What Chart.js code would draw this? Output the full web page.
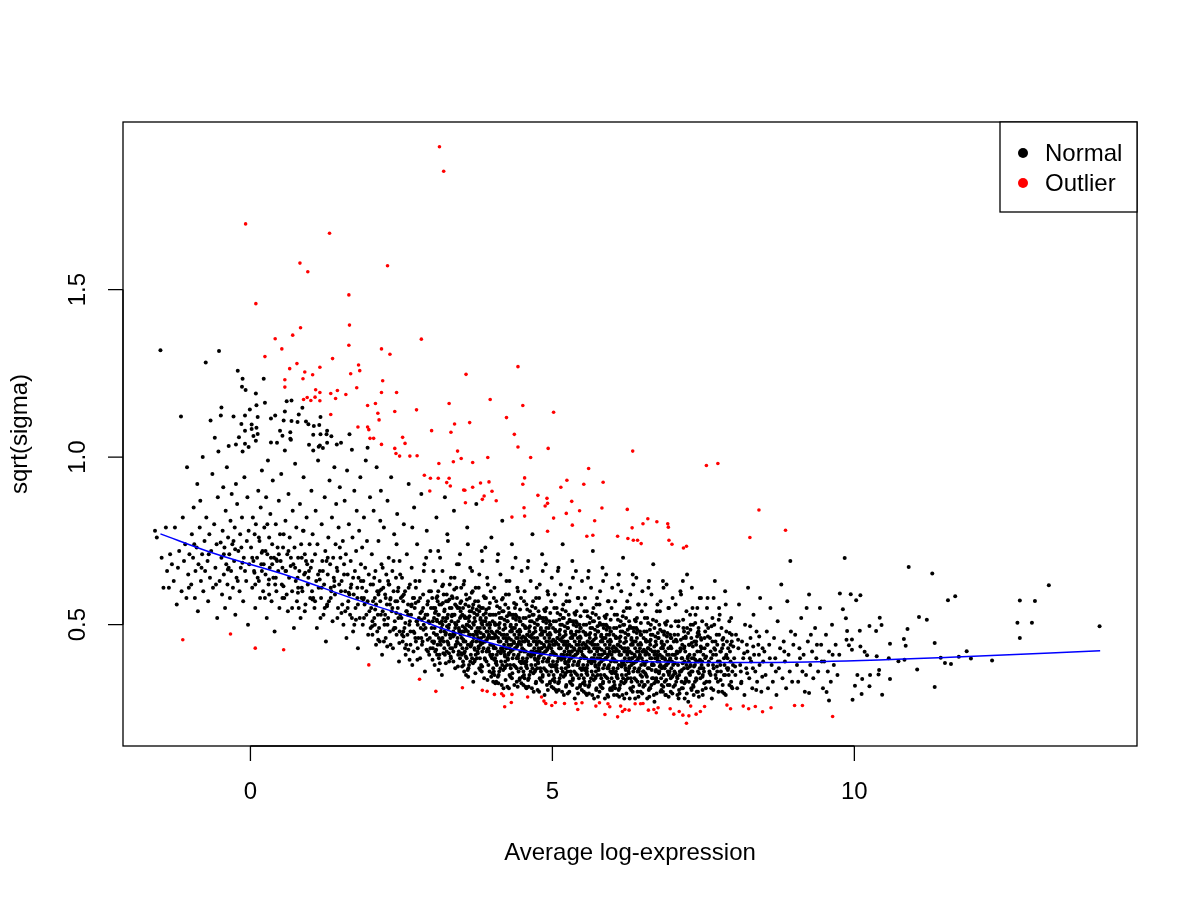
<!DOCTYPE html>
<html lang="en">
<head>
    <meta charset="UTF-8">
    <title>sqrt(sigma) vs Average log-expression</title>
    <style>
        html, body {
            margin: 0;
            padding: 0;
            background: #fff;
        }
        #wrap {
            width: 1200px;
            height: 900px;
        }
    </style>
    <script src="https://cdn.jsdelivr.net/npm/chart.js"></script>
</head>
<body>
    <div id="wrap"><canvas id="sigmaChart" width="1200" height="900"></canvas></div>

    <script>
// axis ticks (R style: axis line spans first..last tick)
const xTicks = [0, 5, 10];
const yTicks = [0.5, 1.0, 1.5];
const yTickLabels = ['0.5', '1.0', '1.5'];

// lowess-like trend (blue line)
const trendX = [-1.49, -0.61, 0.66, 1.76, 2.86, 3.15, 3.70, 4.25, 4.80, 5.35, 5.91, 6.46, 7.01, 7.56, 8.11, 9.22, 11.59, 14.07];
const trendY = [0.771, 0.713, 0.644, 0.574, 0.510, 0.490, 0.460, 0.432, 0.413, 0.401, 0.394, 0.390, 0.388, 0.387, 0.387, 0.389, 0.403, 0.422];

// outlier genes (red)
const outlierPoints = [
    [3.13,1.926],[3.20,1.853],[-0.08,1.696],[1.31,1.668],[0.82,1.579],[0.95,1.553],[2.27,1.571],[0.09,1.458],
    [1.63,1.484],[1.64,1.394],[0.83,1.386],[0.70,1.364],[0.41,1.353],[1.63,1.334],[2.83,1.352],[0.52,1.323],
    [2.17,1.323],[2.31,1.307],[0.24,1.300],[1.36,1.294],[0.77,1.279],[1.79,1.275],[0.65,1.264],[1.15,1.268],
    [0.90,1.254],[1.81,1.258],[1.66,1.249],[1.03,1.246],[0.57,1.231],[0.87,1.234],[2.19,1.228],[0.57,1.209],
    [1.76,1.207],[1.08,1.201],[1.15,1.193],[1.44,1.199],[1.33,1.190],[1.58,1.187],[2.17,1.193],[2.42,1.193],
    [0.94,1.178],[1.07,1.179],[0.88,1.172],[1.00,1.169],[1.15,1.168],[1.41,1.175],[2.07,1.160],[1.94,1.154],
    [3.29,1.160],[1.33,1.127],[2.75,1.141],[2.11,1.131],[2.39,1.136],[2.13,1.111],[3.38,1.099],[1.78,1.090],
    [1.94,1.090],[1.96,1.082],[3.00,1.079],[3.32,1.074],[1.98,1.056],[2.04,1.056],[2.52,1.059],[2.56,1.041],
    [2.17,1.038],[2.39,1.026],[3.43,1.018],[2.41,1.011],[2.47,1.003],[2.64,1.003],[2.76,1.004],[3.12,0.981],
    [3.36,0.986],[3.49,0.996],[2.88,0.946],[2.98,0.937],[3.11,0.937],[3.29,0.937],[3.25,0.924],[3.31,0.914],
    [3.53,0.902],[2.97,0.899],
    [-1.12,0.455],[-0.33,0.472],[0.08,0.430],[0.55,0.425],[1.96,0.380],[2.80,0.337],[3.07,0.301],[3.51,0.312],
    [4.43,1.270],[3.57,1.247],[3.97,1.172],[4.51,1.154],[5.02,1.134],[4.24,1.118],[3.63,1.103],[4.37,1.068],
    [4.43,1.030],[4.93,1.026],[6.33,1.018],
    [3.68,0.984],[3.93,0.999],[4.64,0.999],[5.60,0.966],[7.55,0.975],[7.74,0.981],[3.81,0.923],[3.95,0.926],
    [3.55,0.901],[3.68,0.910],[4.00,0.898],[4.54,0.938],[5.24,0.931],[5.52,0.919],[5.84,0.925],[5.14,0.910],
    [4.51,0.919],[3.87,0.884],[3.84,0.874],[4.07,0.870],[3.56,0.864],[4.76,0.886],[4.91,0.877],[4.92,0.862],
    [4.88,0.854],[4.53,0.849],[5.32,0.868],[5.45,0.840],[5.82,0.848],[5.23,0.832],[6.24,0.844],[8.42,0.842],
    [4.33,0.821],[4.54,0.824],[5.02,0.818],[5.70,0.810],[5.33,0.797],[6.58,0.816],[6.50,0.801],[6.73,0.807],
    [6.91,0.801],[6.92,0.791],[6.32,0.789],[8.86,0.782],[4.92,0.779],[5.57,0.764],[5.67,0.767],[6.08,0.764],
    [6.25,0.757],[6.34,0.752],[6.41,0.752],[6.47,0.742],[6.93,0.752],[6.98,0.740],[8.27,0.760],[7.22,0.734],
    [7.17,0.729],
    [3.84,0.304],[3.92,0.301],[4.16,0.294],[4.19,0.288],[4.33,0.292],[4.32,0.268],[4.21,0.255],[4.04,0.292],
    [4.59,0.284],[4.82,0.284],[4.86,0.272],[4.89,0.265],[4.99,0.259],[5.05,0.268],[5.20,0.265],[5.39,0.265],
    [5.42,0.247],[5.49,0.267],[5.72,0.257],[5.78,0.267],[5.87,0.232],[5.92,0.264],[5.95,0.255],[6.08,0.225],
    [6.13,0.257],[6.16,0.241],[6.20,0.247],[6.27,0.245],[6.37,0.264],[6.46,0.264],[6.50,0.265],[6.59,0.245],
    [6.68,0.247],[6.72,0.237],[6.75,0.252],[6.95,0.249],[7.01,0.233],[7.10,0.241],[7.16,0.230],[7.26,0.228],
    [7.22,0.206],[7.29,0.257],[7.38,0.233],[7.45,0.241],[7.52,0.256],[7.89,0.260],[7.95,0.249],[8.16,0.257],
    [8.25,0.249],[8.36,0.256],[8.48,0.240],[8.62,0.252],[9.01,0.259],[9.14,0.259],[9.64,0.226]
];

// normal genes (black)
const normalPoints = [
    // upper-left scatter
    [-1.49,1.319],[-0.52,1.317],[-0.74,1.282],[-1.15,1.121],[-0.21,1.258],[-0.13,1.234],[0.22,1.234],[-0.14,1.210],
    [-0.08,1.200],[0.09,1.190],[-0.48,1.148],[-0.01,1.142],[0.10,1.155],[0.24,1.162],[0.60,1.167],[0.68,1.169],
    [0.86,1.147],[-0.49,1.124],[-0.28,1.121],[-0.09,1.124],[0.12,1.120],[-0.66,1.109],[-0.15,1.099],[0.02,1.097],
    [0.34,1.115],[0.41,1.124],[0.57,1.136],[0.80,1.127],[1.16,1.120],[0.55,1.109],[0.68,1.108],[0.78,1.105],
    [0.92,1.106],[0.96,1.098],[1.14,1.096],[1.05,1.093],[0.10,1.088],[-0.09,1.079],[0.02,1.084],[0.49,1.079],
    [0.66,1.074],[1.27,1.079],[-0.59,1.058],[-0.19,1.059],[0.05,1.063],[0.12,1.069],[0.53,1.064],[0.66,1.055],
    [1.04,1.067],[1.16,1.068],[1.26,1.068],[1.64,1.068],[1.34,1.062],[-0.36,1.033],[-0.24,1.038],[-0.09,1.040],
    [-0.03,1.030],[0.09,1.049],[0.34,1.044],[0.44,1.043],[0.67,1.052],[0.97,1.037],[1.15,1.035],[1.27,1.043],
    [1.43,1.038],[1.50,1.043],[1.68,1.022],[1.94,1.028],[0.57,1.020],[1.04,1.020],[1.13,1.031],[1.20,1.027],
    [-0.53,1.017],[-0.13,1.017],
    // x -1.6 .. -1.0
    [-1.58,0.78],[-1.55,0.76],[-1.47,0.70],[-1.44,0.61],[-1.40,0.79],[-1.38,0.66],[-1.35,0.61],[-1.33,0.71],
    [-1.30,0.68],[-1.27,0.63],[-1.25,0.79],[-1.22,0.56],[-1.20,0.67],[-1.18,0.72],[-1.14,0.60],[-1.12,0.82],
    [-1.10,0.69],[-1.08,0.74],[-1.06,0.58],[-1.05,0.97],[-1.03,0.65],[-1.02,0.61],[-1.01,0.71],
    // x -1.0 .. -0.5
    [-0.98,0.62],[-0.97,0.77],[-0.95,0.70],[-0.94,0.85],[-0.92,0.58],[-0.91,0.66],[-0.89,0.73],[-0.88,0.92],
    [-0.87,0.54],[-0.86,0.68],[-0.84,0.79],[-0.83,0.87],[-0.82,0.63],[-0.80,0.71],[-0.79,1.00],[-0.78,0.60],
    [-0.76,0.75],[-0.75,0.66],[-0.73,0.82],[-0.71,0.69],[-0.70,0.57],[-0.68,0.77],[-0.67,0.64],[-0.65,0.72],
    [-0.63,0.95],[-0.62,0.61],[-0.60,0.80],[-0.58,0.67],[-0.56,0.74],[-0.55,0.52],[-0.54,0.88],[-0.51,0.63],
    [-0.93,0.74],[-0.81,0.67],[-0.69,0.71],[-0.57,0.62],
    // x -0.5 .. 0
    [-0.48,0.70],[-0.47,0.59],[-0.46,0.78],[-0.45,0.91],[-0.44,0.65],[-0.43,0.73],[-0.42,0.55],[-0.41,0.84],
    [-0.40,0.68],[-0.39,0.97],[-0.38,0.62],[-0.37,0.76],[-0.35,0.71],[-0.34,0.58],[-0.33,0.81],[-0.32,0.66],
    [-0.31,0.89],[-0.30,0.74],[-0.29,0.61],[-0.27,0.69],[-0.26,0.79],[-0.25,0.53],[-0.23,0.64],[-0.22,0.86],
    [-0.20,0.72],[-0.18,0.60],[-0.17,0.77],[-0.16,0.67],[-0.12,0.57],[-0.11,0.70],[-0.10,0.94],[-0.07,0.63],
    [-0.06,0.75],[-0.05,0.88],[-0.04,0.50],[-0.02,0.68],[-0.44,0.71],[-0.36,0.67],[-0.28,0.75],[-0.21,0.63],
    [-0.15,0.73],[-0.09,0.66],[-0.03,0.78],[-0.14,0.82],[-0.24,0.92],
    // x 0 .. 0.5
    [0.01,0.73],[0.03,0.61],[0.04,0.82],[0.06,0.66],[0.07,0.77],[0.08,0.55],[0.11,0.70],[0.13,0.90],
    [0.14,0.63],[0.15,0.75],[0.16,0.58],[0.17,0.85],[0.18,0.68],[0.19,0.96],[0.20,0.72],[0.21,0.60],
    [0.23,0.79],[0.25,0.65],[0.26,0.88],[0.27,0.52],[0.28,0.71],[0.29,0.99],[0.30,0.62],[0.31,0.76],
    [0.32,0.67],[0.33,0.83],[0.35,0.57],[0.36,0.74],[0.37,0.93],[0.38,0.64],[0.39,0.70],[0.40,0.48],
    [0.42,0.80],[0.43,0.60],[0.45,0.73],[0.46,0.66],[0.47,0.87],[0.48,0.55],[0.49,0.77],[0.05,0.69],
    [0.12,0.64],[0.22,0.68],[0.34,0.70],[0.41,0.62],[0.44,0.69],[0.09,0.80],[0.24,0.58],
    // x 0.5 .. 1.0
    [0.50,0.69],[0.51,0.95],[0.52,0.62],[0.54,0.73],[0.56,0.58],[0.58,0.81],[0.59,0.66],[0.61,0.71],
    [0.62,0.54],[0.63,0.89],[0.64,0.64],[0.65,0.76],[0.69,0.60],[0.70,0.84],[0.71,0.68],[0.72,0.49],
    [0.73,0.73],[0.74,0.98],[0.75,0.63],[0.76,0.79],[0.77,0.57],[0.79,0.70],[0.81,0.66],[0.82,0.86],
    [0.83,0.52],[0.84,0.74],[0.85,0.61],[0.87,0.78],[0.88,0.94],[0.89,0.65],[0.90,0.71],[0.91,0.56],
    [0.93,0.82],[0.94,0.68],[0.95,0.62],[0.98,0.74],[0.99,0.58],[0.53,0.67],[0.60,0.59],[0.67,0.70],
    [0.78,0.64],[0.86,0.60],[0.92,0.69],[0.97,0.66],[0.55,0.77],[0.80,0.55],
    // x 1.0 .. 1.5
    [1.00,0.67],[1.01,0.90],[1.02,0.60],[1.03,0.77],[1.06,0.55],[1.07,0.71],[1.08,0.84],[1.09,0.63],
    [1.10,0.49],[1.11,0.74],[1.12,0.99],[1.15,0.66],[1.17,0.58],[1.18,0.80],[1.19,0.69],[1.21,0.53],
    [1.22,0.62],[1.23,0.88],[1.24,0.72],[1.25,0.45],[1.28,0.65],[1.29,0.76],[1.30,0.57],[1.31,0.93],
    [1.32,0.68],[1.33,0.61],[1.35,0.82],[1.36,0.51],[1.37,0.70],[1.38,0.64],[1.39,0.97],[1.40,0.59],
    [1.41,0.74],[1.42,0.86],[1.44,0.66],[1.45,0.55],[1.46,0.79],[1.47,0.62],[1.48,0.91],[1.49,0.70],
    [1.04,0.58],[1.13,0.61],[1.20,0.66],[1.27,0.56],[1.34,0.60],[1.43,0.67],[1.16,0.52],[1.26,0.69],
    // x 1.5 .. 2.0
    [1.51,0.63],[1.52,0.56],[1.53,0.75],[1.54,0.50],[1.55,0.68],[1.56,0.87],[1.57,0.60],[1.58,0.71],
    [1.59,0.46],[1.60,0.96],[1.61,0.65],[1.62,0.57],[1.63,0.80],[1.65,0.53],[1.66,0.69],[1.67,0.62],
    [1.69,0.76],[1.70,0.48],[1.71,0.59],[1.72,0.90],[1.73,0.66],[1.74,0.55],[1.75,0.72],[1.76,0.84],
    [1.77,0.61],[1.78,0.43],[1.79,0.64],[1.80,0.78],[1.81,0.52],[1.82,0.94],[1.83,0.68],[1.84,0.58],
    [1.85,0.73],[1.86,0.50],[1.87,0.63],[1.88,0.82],[1.89,0.56],[1.90,0.67],[1.91,0.99],[1.92,0.60],
    [1.93,0.75],[1.95,0.47],[1.96,0.65],[1.97,0.54],[1.98,0.88],[1.99,0.62],[1.57,0.54],[1.64,0.59],
    [1.70,0.64],[1.78,0.56],[1.85,0.61],[1.92,0.53],[1.68,0.52],[1.88,0.58],
    // x -0.5 .. 2, band near the trend
    [0.03,0.70],[0.08,0.62],[0.14,0.76],[0.19,0.66],[0.25,0.72],[0.31,0.59],[0.36,0.68],[0.42,0.64],
    [0.47,0.71],[0.53,0.58],[0.58,0.66],[0.63,0.72],[0.69,0.55],[0.74,0.67],[0.79,0.61],[0.85,0.70],
    [0.90,0.54],[0.96,0.64],[1.02,0.69],[1.07,0.57],[1.12,0.65],[1.18,0.61],[1.23,0.55],[1.28,0.70],
    [1.33,0.58],[1.39,0.63],[1.44,0.52],[1.50,0.60],[1.55,0.65],[1.61,0.55],[1.66,0.61],[1.72,0.50],
    [1.77,0.58],[1.83,0.63],[1.88,0.52],[1.94,0.57],[1.99,0.49],[0.28,0.80],[0.88,0.78],[1.48,0.73],
    [0.067,0.655],[0.187,0.715],[0.307,0.635],[0.427,0.695],[0.547,0.615],[0.667,0.675],[0.787,0.595],[0.907,0.655],
    [1.027,0.575],[1.147,0.635],[1.267,0.555],[1.387,0.615],[1.507,0.535],[1.627,0.595],[1.747,0.515],[1.867,0.575],
    [-0.133,0.685],[-0.253,0.725],[-0.373,0.665],[-0.493,0.745],
    // x 2.0 .. 2.5
    [2.00,0.55],[2.01,0.71],[2.02,0.47],[2.03,0.62],[2.04,0.84],[2.05,0.52],[2.06,0.58],[2.07,0.66],
    [2.08,0.44],[2.09,0.97],[2.10,0.60],[2.11,0.53],[2.12,0.75],[2.13,0.49],[2.14,0.63],[2.15,0.57],
    [2.16,0.90],[2.17,0.68],[2.18,0.41],[2.19,0.54],[2.20,0.61],[2.21,0.79],[2.22,0.50],[2.23,0.59],
    [2.24,0.46],[2.25,0.65],[2.26,0.56],[2.27,0.87],[2.28,0.52],[2.29,0.70],[2.30,0.62],[2.31,0.48],
    [2.32,0.58],[2.33,0.94],[2.34,0.54],[2.35,0.66],[2.36,0.43],[2.37,0.60],[2.38,0.77],[2.39,0.51],
    [2.40,0.57],[2.41,0.64],[2.42,0.47],[2.43,0.83],[2.44,0.55],[2.45,0.61],[2.46,0.39],[2.47,0.69],
    [2.48,0.53],[2.49,0.58],[2.06,0.50],[2.14,0.45],[2.23,0.53],[2.31,0.56],[2.38,0.49],[2.44,0.60],
    [2.12,0.59],[2.28,0.63],[2.47,0.48],[2.03,0.57],
    // x 2.5 .. 3.0
    [2.50,0.52],[2.51,0.64],[2.52,0.45],[2.53,0.57],[2.54,0.80],[2.55,0.49],[2.56,0.60],[2.57,0.41],
    [2.58,0.54],[2.59,0.71],[2.60,0.47],[2.61,0.56],[2.62,0.92],[2.63,0.50],[2.64,0.62],[2.65,0.44],
    [2.66,0.53],[2.67,0.67],[2.68,0.38],[2.69,0.58],[2.70,0.48],[2.71,0.85],[2.72,0.55],[2.73,0.46],
    [2.74,0.61],[2.75,0.51],[2.76,0.74],[2.77,0.43],[2.78,0.57],[2.79,0.52],[2.80,0.63],[2.81,0.40],
    [2.82,0.49],[2.83,0.89],[2.84,0.54],[2.85,0.45],[2.86,0.59],[2.87,0.50],[2.88,0.68],[2.89,0.36],
    [2.90,0.53],[2.91,0.47],[2.92,0.78],[2.93,0.56],[2.94,0.42],[2.95,0.51],[2.96,0.60],[2.97,0.46],
    [2.98,0.72],[2.99,0.55],[2.53,0.48],[2.58,0.44],[2.64,0.51],[2.71,0.58],[2.77,0.50],[2.83,0.46],
    [2.88,0.52],[2.94,0.57],[2.98,0.43],[2.61,0.53],[2.74,0.45],[2.86,0.55],
    // x 2.0 .. 3.0, second and third pass
    [2.02,0.51],[2.05,0.64],[2.08,0.56],[2.10,0.48],[2.13,0.60],[2.16,0.53],[2.19,0.67],[2.21,0.45],
    [2.24,0.58],[2.27,0.50],[2.29,0.62],[2.32,0.44],[2.35,0.55],[2.37,0.69],[2.40,0.49],[2.43,0.57],
    [2.45,0.52],[2.48,0.65],[2.51,0.47],[2.54,0.59],[2.56,0.43],[2.59,0.54],[2.62,0.61],[2.65,0.48],
    [2.67,0.56],[2.70,0.42],[2.73,0.63],[2.76,0.51],[2.78,0.46],[2.81,0.58],[2.84,0.44],[2.87,0.66],
    [2.90,0.49],[2.93,0.53],[2.96,0.41],[2.99,0.60],[2.15,0.81],[2.42,0.74],[2.68,0.79],[2.91,0.70],
    [2.015,0.495],[2.065,0.545],[2.115,0.455],[2.165,0.605],[2.215,0.515],[2.265,0.435],[2.315,0.575],[2.365,0.485],
    [2.415,0.535],[2.465,0.445],[2.515,0.585],[2.565,0.505],[2.615,0.425],[2.665,0.555],[2.715,0.475],[2.765,0.395],
    [2.815,0.535],[2.865,0.485],[2.915,0.425],[2.965,0.505],[2.535,0.465],[2.635,0.395],[2.735,0.565],[2.835,0.515],
    [2.935,0.455],
    // x 3.0 .. 3.5
    [3.00,0.49],[3.01,0.58],[3.02,0.43],[3.03,0.66],[3.04,0.52],[3.05,0.38],[3.06,0.55],[3.07,0.47],
    [3.08,0.82],[3.09,0.51],[3.10,0.44],[3.11,0.60],[3.12,0.53],[3.13,0.41],[3.14,0.70],[3.15,0.48],
    [3.16,0.56],[3.17,0.35],[3.18,0.50],[3.19,0.62],[3.20,0.45],[3.21,0.54],[3.22,0.88],[3.23,0.47],
    [3.24,0.57],[3.25,0.42],[3.26,0.52],[3.27,0.75],[3.28,0.49],[3.29,0.39],[3.30,0.55],[3.31,0.46],
    [3.32,0.64],[3.33,0.51],[3.34,0.43],[3.35,0.58],[3.36,0.48],[3.37,0.84],[3.38,0.53],[3.39,0.37],
    [3.40,0.50],[3.41,0.61],[3.42,0.45],[3.43,0.55],[3.44,0.41],[3.45,0.68],[3.46,0.48],[3.47,0.52],
    [3.48,0.44],[3.49,0.57],[3.02,0.51],[3.07,0.54],[3.12,0.46],[3.16,0.49],[3.21,0.43],[3.25,0.59],
    [3.30,0.47],[3.34,0.53],[3.39,0.56],[3.43,0.46],[3.47,0.40],[3.04,0.45],[3.10,0.57],[3.19,0.52],
    [3.28,0.44],[3.36,0.42],[3.41,0.50],[3.45,0.49],[3.14,0.45],[3.23,0.51],[3.32,0.40],[3.48,0.54],
    [3.09,0.41],[3.27,0.53],[3.38,0.47],
    [3.01,0.45],[3.03,0.55],[3.05,0.49],[3.06,0.42],[3.08,0.58],[3.09,0.47],[3.11,0.53],[3.12,0.40],
    [3.13,0.56],[3.15,0.44],[3.17,0.51],[3.18,0.46],[3.20,0.59],[3.21,0.48],[3.22,0.41],[3.24,0.52],
    [3.26,0.45],[3.27,0.57],[3.29,0.50],[3.31,0.43],[3.33,0.55],[3.35,0.47],[3.36,0.39],[3.37,0.53],
    [3.39,0.49],[3.40,0.44],[3.42,0.58],[3.44,0.51],[3.45,0.42],[3.46,0.55],[3.48,0.47],[3.49,0.61],
    [3.06,0.63],[3.18,0.66],[3.30,0.62],[3.42,0.68],[3.11,0.72],[3.26,0.77],[3.38,0.64],[3.47,0.71],
    [3.015,0.395],[3.035,0.475],[3.055,0.535],[3.075,0.425],[3.095,0.585],[3.115,0.365],[3.135,0.505],[3.155,0.455],
    [3.175,0.615],[3.195,0.415],[3.215,0.545],[3.235,0.385],[3.255,0.495],[3.275,0.445],[3.295,0.575],[3.315,0.405],
    [3.335,0.525],[3.355,0.465],[3.375,0.605],[3.395,0.435],[3.415,0.555],[3.435,0.375],[3.455,0.485],[3.475,0.565],
    [3.495,0.415],
    [3.037,0.445],[3.087,0.515],[3.137,0.385],[3.187,0.565],[3.237,0.475],[3.287,0.415],[3.337,0.585],[3.387,0.505],
    [3.437,0.445],[3.487,0.525],
    // x 3.5 .. 4.0
    [3.50,0.46],[3.51,0.53],[3.52,0.39],[3.53,0.62],[3.54,0.48],[3.55,0.42],[3.56,0.56],[3.57,0.35],
    [3.58,0.50],[3.59,0.79],[3.60,0.44],[3.61,0.52],[3.62,0.38],[3.63,0.58],[3.64,0.47],[3.65,0.41],
    [3.66,0.54],[3.67,0.66],[3.68,0.45],[3.69,0.33],[3.70,0.50],[3.71,0.43],[3.72,0.57],[3.73,0.48],
    [3.74,0.86],[3.75,0.40],[3.76,0.53],[3.77,0.46],[3.78,0.61],[3.79,0.37],[3.80,0.49],[3.81,0.44],
    [3.82,0.55],[3.83,0.72],[3.84,0.42],[3.85,0.51],[3.86,0.47],[3.87,0.34],[3.88,0.58],[3.89,0.45],
    [3.90,0.52],[3.91,0.39],[3.92,0.64],[3.93,0.48],[3.94,0.43],[3.95,0.55],[3.96,0.36],[3.97,0.50],
    [3.98,0.46],[3.99,0.76],[3.51,0.43],[3.55,0.49],[3.58,0.40],[3.62,0.51],[3.66,0.44],[3.69,0.47],
    [3.73,0.41],[3.76,0.49],[3.80,0.45],[3.84,0.50],[3.88,0.40],[3.91,0.48],[3.95,0.42],[3.98,0.53],
    [3.53,0.45],[3.60,0.48],[3.64,0.39],[3.71,0.52],[3.78,0.43],[3.82,0.38],[3.86,0.53],[3.93,0.46],
    [3.97,0.41],[3.57,0.52],[3.68,0.55],[3.75,0.47],[3.89,0.51],[3.54,0.36],[3.79,0.54],[3.96,0.49],
    [3.50,0.41],[3.51,0.48],[3.52,0.55],[3.53,0.38],[3.55,0.52],[3.56,0.45],[3.57,0.59],[3.58,0.43],
    [3.59,0.50],[3.61,0.37],[3.62,0.47],[3.63,0.54],[3.65,0.44],[3.66,0.49],[3.67,0.40],[3.69,0.56],
    [3.70,0.46],[3.71,0.39],[3.72,0.51],[3.74,0.45],[3.75,0.53],[3.76,0.42],[3.77,0.57],[3.78,0.48],
    [3.80,0.40],[3.81,0.52],[3.82,0.46],[3.83,0.36],[3.85,0.55],[3.86,0.43],[3.87,0.49],[3.88,0.45],
    [3.90,0.58],[3.91,0.42],[3.92,0.50],[3.94,0.38],[3.95,0.47],[3.96,0.53],[3.97,0.44],[3.99,0.48],
    [3.54,0.63],[3.64,0.67],[3.73,0.61],[3.84,0.69],[3.93,0.62],[3.60,0.74],[3.79,0.65],[3.89,0.73],
    [3.98,0.60],[3.68,0.60],
    [3.505,0.375],[3.525,0.455],[3.545,0.525],[3.565,0.405],[3.585,0.575],[3.605,0.345],[3.625,0.495],[3.645,0.435],
    [3.665,0.595],[3.685,0.385],[3.705,0.535],[3.725,0.355],[3.745,0.475],[3.765,0.415],[3.785,0.555],[3.805,0.365],
    [3.825,0.505],[3.845,0.445],[3.865,0.585],[3.885,0.395],[3.905,0.545],[3.925,0.335],[3.945,0.465],[3.965,0.565],
    [3.985,0.405],[3.515,0.495],[3.615,0.555],[3.715,0.425],[3.815,0.475],[3.915,0.455],
    [3.537,0.415],[3.567,0.485],[3.597,0.365],[3.627,0.525],[3.657,0.445],[3.687,0.505],[3.717,0.395],[3.747,0.545],
    [3.777,0.435],[3.807,0.515],[3.837,0.375],[3.867,0.465],[3.897,0.535],[3.927,0.425],[3.957,0.505],[3.987,0.345],
    // x 4.0 .. 4.5
    [4.00,0.44],[4.01,0.51],[4.02,0.37],[4.03,0.58],[4.04,0.46],[4.05,0.40],[4.06,0.53],[4.07,0.33],
    [4.08,0.48],[4.09,0.69],[4.10,0.42],[4.11,0.50],[4.12,0.36],[4.13,0.55],[4.14,0.45],[4.15,0.39],
    [4.16,0.52],[4.17,0.81],[4.18,0.43],[4.19,0.31],[4.20,0.47],[4.21,0.41],[4.22,0.56],[4.23,0.46],
    [4.24,0.63],[4.25,0.38],[4.26,0.51],[4.27,0.44],[4.28,0.59],[4.29,0.35],[4.30,0.48],[4.31,0.42],
    [4.32,0.53],[4.33,0.74],[4.34,0.40],[4.35,0.49],[4.36,0.45],[4.37,0.32],[4.38,0.55],[4.39,0.43],
    [4.40,0.50],[4.41,0.37],[4.42,0.61],[4.43,0.46],[4.44,0.41],[4.45,0.52],[4.46,0.34],[4.47,0.48],
    [4.48,0.44],[4.49,0.66],[4.01,0.41],[4.05,0.47],[4.08,0.38],[4.12,0.49],[4.15,0.43],[4.19,0.46],
    [4.22,0.39],[4.25,0.47],[4.29,0.43],[4.33,0.48],[4.36,0.38],[4.40,0.46],[4.43,0.40],[4.47,0.51],
    [4.03,0.43],[4.10,0.46],[4.14,0.37],[4.21,0.50],[4.27,0.41],[4.31,0.37],[4.35,0.52],[4.42,0.44],
    [4.46,0.39],[4.06,0.50],[4.17,0.54],[4.24,0.45],[4.38,0.49],[4.04,0.35],[4.28,0.53],[4.45,0.47],
    [4.11,0.45],[4.32,0.44],[4.48,0.37],[4.20,0.42],[4.39,0.53],
    [4.00,0.40],[4.01,0.46],[4.02,0.53],[4.03,0.36],[4.05,0.50],[4.06,0.43],[4.07,0.57],[4.08,0.41],
    [4.09,0.48],[4.11,0.35],[4.12,0.45],[4.13,0.52],[4.15,0.42],[4.16,0.47],[4.17,0.38],[4.19,0.54],
    [4.20,0.44],[4.21,0.37],[4.22,0.49],[4.24,0.43],[4.25,0.51],[4.26,0.40],[4.27,0.55],[4.28,0.46],
    [4.30,0.38],[4.31,0.50],[4.32,0.44],[4.33,0.34],[4.35,0.53],[4.36,0.41],[4.37,0.47],[4.38,0.43],
    [4.40,0.56],[4.41,0.40],[4.42,0.48],[4.44,0.36],[4.45,0.45],[4.46,0.51],[4.47,0.42],[4.49,0.46],
    [4.04,0.61],[4.14,0.65],[4.23,0.59],[4.34,0.67],[4.43,0.60],[4.10,0.71],[4.29,0.63],[4.39,0.70],
    [4.48,0.58],[4.18,0.58],[4.02,0.33],[4.16,0.32],[4.28,0.31],[4.41,0.33],[4.07,0.39],
    [4.005,0.355],[4.025,0.435],[4.045,0.505],[4.065,0.385],[4.085,0.555],[4.105,0.325],[4.125,0.475],[4.145,0.415],
    [4.165,0.575],[4.185,0.365],[4.205,0.515],[4.225,0.335],[4.245,0.455],[4.265,0.395],[4.285,0.535],[4.305,0.345],
    [4.325,0.485],[4.345,0.425],[4.365,0.565],[4.385,0.375],[4.405,0.525],[4.425,0.315],[4.445,0.445],[4.465,0.545],
    [4.485,0.385],[4.015,0.475],[4.115,0.535],[4.215,0.405],[4.315,0.455],[4.415,0.435],[4.055,0.325],[4.255,0.315],
    [4.455,0.335],
    [4.037,0.395],[4.067,0.465],[4.097,0.345],[4.127,0.505],[4.157,0.425],[4.187,0.485],[4.217,0.375],[4.247,0.525],
    [4.277,0.415],[4.307,0.495],[4.337,0.355],[4.367,0.445],[4.397,0.515],[4.427,0.405],[4.457,0.485],[4.487,0.325],
    // x 4.5 .. 5.0
    [4.50,0.43],[4.51,0.50],[4.52,0.36],[4.53,0.57],[4.54,0.45],[4.55,0.39],[4.56,0.52],[4.57,0.31],
    [4.58,0.47],[4.59,0.67],[4.60,0.41],[4.61,0.49],[4.62,0.35],[4.63,0.54],[4.64,0.44],[4.65,0.38],
    [4.66,0.51],[4.67,0.77],[4.68,0.42],[4.69,0.30],[4.70,0.46],[4.71,0.40],[4.72,0.55],[4.73,0.45],
    [4.74,0.61],[4.75,0.37],[4.76,0.50],[4.77,0.43],[4.78,0.58],[4.79,0.34],[4.80,0.47],[4.81,0.41],
    [4.82,0.52],[4.83,0.71],[4.84,0.39],[4.85,0.48],[4.86,0.44],[4.87,0.29],[4.88,0.54],[4.89,0.42],
    [4.90,0.49],[4.91,0.36],[4.92,0.60],[4.93,0.45],[4.94,0.40],[4.95,0.51],[4.96,0.33],[4.97,0.47],
    [4.98,0.43],[4.99,0.64],[4.51,0.40],[4.55,0.46],[4.58,0.37],[4.62,0.48],[4.65,0.42],[4.69,0.45],
    [4.72,0.38],[4.75,0.46],[4.79,0.42],[4.83,0.47],[4.86,0.37],[4.90,0.45],[4.93,0.39],[4.97,0.50],
    [4.53,0.42],[4.60,0.45],[4.64,0.36],[4.71,0.49],[4.77,0.40],[4.81,0.36],[4.85,0.51],[4.92,0.43],
    [4.96,0.38],[4.56,0.49],[4.67,0.53],[4.74,0.44],[4.88,0.48],[4.54,0.34],[4.78,0.52],[4.95,0.46],
    [4.61,0.44],[4.82,0.43],[4.98,0.36],[4.70,0.41],[4.89,0.52],[4.57,0.39],[4.66,0.47],[4.84,0.35],
    [4.94,0.49],[4.73,0.33],
    [4.50,0.39],[4.51,0.45],[4.52,0.52],[4.53,0.35],[4.55,0.49],[4.56,0.42],[4.57,0.56],[4.58,0.40],
    [4.59,0.47],[4.61,0.34],[4.62,0.44],[4.63,0.51],[4.65,0.41],[4.66,0.46],[4.67,0.37],[4.69,0.53],
    [4.70,0.43],[4.71,0.36],[4.72,0.48],[4.74,0.42],[4.75,0.50],[4.76,0.39],[4.77,0.54],[4.78,0.45],
    [4.80,0.37],[4.81,0.49],[4.82,0.43],[4.83,0.33],[4.85,0.52],[4.86,0.40],[4.87,0.46],[4.88,0.42],
    [4.90,0.55],[4.91,0.39],[4.92,0.47],[4.94,0.35],[4.95,0.44],[4.96,0.50],[4.97,0.41],[4.99,0.45],
    [4.54,0.60],[4.64,0.63],[4.73,0.58],[4.84,0.66],[4.93,0.59],[4.60,0.69],[4.79,0.62],[4.89,0.68],
    [4.98,0.57],[4.68,0.57],[4.52,0.32],[4.66,0.31],[4.78,0.30],[4.91,0.32],[4.57,0.38],
    [4.505,0.345],[4.525,0.425],[4.545,0.495],[4.565,0.375],[4.585,0.545],[4.605,0.315],[4.625,0.465],[4.645,0.405],
    [4.665,0.555],[4.685,0.355],[4.705,0.505],[4.725,0.325],[4.745,0.445],[4.765,0.385],[4.785,0.525],[4.805,0.335],
    [4.825,0.475],[4.845,0.415],[4.865,0.545],[4.885,0.365],[4.905,0.515],[4.925,0.305],[4.945,0.435],[4.965,0.535],
    [4.985,0.375],[4.515,0.465],[4.615,0.525],[4.715,0.395],[4.815,0.445],[4.915,0.425],[4.555,0.315],[4.755,0.305],
    [4.955,0.325],
    [4.537,0.385],[4.567,0.455],[4.597,0.335],[4.627,0.495],[4.657,0.415],[4.687,0.475],[4.717,0.365],[4.747,0.515],
    [4.777,0.405],[4.807,0.485],[4.837,0.345],[4.867,0.435],[4.897,0.505],[4.927,0.395],[4.957,0.475],[4.987,0.315],
    // x 5.0 .. 5.5
    [5.00,0.42],[5.01,0.49],[5.02,0.35],[5.03,0.55],[5.04,0.44],[5.05,0.38],[5.06,0.51],[5.07,0.30],
    [5.08,0.46],[5.09,0.66],[5.10,0.40],[5.11,0.48],[5.12,0.34],[5.13,0.53],[5.14,0.43],[5.15,0.37],
    [5.16,0.50],[5.17,0.74],[5.18,0.41],[5.19,0.29],[5.20,0.45],[5.21,0.39],[5.22,0.54],[5.23,0.44],
    [5.24,0.59],[5.25,0.36],[5.26,0.49],[5.27,0.42],[5.28,0.57],[5.29,0.33],[5.30,0.46],[5.31,0.40],
    [5.32,0.51],[5.33,0.69],[5.34,0.38],[5.35,0.47],[5.36,0.43],[5.37,0.28],[5.38,0.53],[5.39,0.41],
    [5.40,0.48],[5.41,0.35],[5.42,0.58],[5.43,0.44],[5.44,0.39],[5.45,0.50],[5.46,0.32],[5.47,0.46],
    [5.48,0.42],[5.49,0.63],[5.01,0.39],[5.05,0.45],[5.08,0.36],[5.12,0.47],[5.15,0.41],[5.19,0.44],
    [5.22,0.37],[5.25,0.45],[5.29,0.41],[5.33,0.46],[5.36,0.36],[5.40,0.44],[5.43,0.38],[5.47,0.49],
    [5.03,0.41],[5.10,0.44],[5.14,0.35],[5.21,0.48],[5.27,0.39],[5.31,0.35],[5.35,0.50],[5.42,0.42],
    [5.46,0.37],[5.06,0.48],[5.17,0.52],[5.24,0.43],[5.38,0.47],[5.04,0.33],[5.28,0.51],[5.45,0.45],
    [5.11,0.43],[5.32,0.42],[5.48,0.35],[5.20,0.40],[5.39,0.51],[5.07,0.38],[5.16,0.46],[5.34,0.34],
    [5.44,0.48],[5.23,0.32],
    [5.00,0.38],[5.01,0.44],[5.02,0.51],[5.03,0.34],[5.05,0.48],[5.06,0.41],[5.07,0.55],[5.08,0.39],
    [5.09,0.46],[5.11,0.33],[5.12,0.43],[5.13,0.50],[5.15,0.40],[5.16,0.45],[5.17,0.36],[5.19,0.52],
    [5.20,0.42],[5.21,0.35],[5.22,0.47],[5.24,0.41],[5.25,0.49],[5.26,0.38],[5.27,0.53],[5.28,0.44],
    [5.30,0.36],[5.31,0.48],[5.32,0.42],[5.33,0.32],[5.35,0.51],[5.36,0.39],[5.37,0.45],[5.38,0.41],
    [5.40,0.54],[5.41,0.38],[5.42,0.46],[5.44,0.34],[5.45,0.43],[5.46,0.49],[5.47,0.40],[5.49,0.44],
    [5.04,0.59],[5.14,0.62],[5.23,0.57],[5.34,0.64],[5.43,0.58],[5.10,0.67],[5.29,0.61],[5.39,0.66],
    [5.48,0.56],[5.18,0.56],[5.02,0.31],[5.16,0.30],[5.28,0.30],[5.41,0.31],[5.07,0.37],
    [5.005,0.335],[5.025,0.415],[5.045,0.485],[5.065,0.365],[5.085,0.535],[5.105,0.305],[5.125,0.455],[5.145,0.395],
    [5.165,0.545],[5.185,0.345],[5.205,0.495],[5.225,0.315],[5.245,0.435],[5.265,0.375],[5.285,0.515],[5.305,0.325],
    [5.325,0.465],[5.345,0.405],[5.365,0.535],[5.385,0.355],[5.405,0.505],[5.425,0.295],[5.445,0.425],[5.465,0.525],
    [5.485,0.365],[5.015,0.455],[5.115,0.515],[5.215,0.385],[5.315,0.435],[5.415,0.415],[5.055,0.305],[5.255,0.295],
    [5.455,0.315],
    [5.037,0.375],[5.067,0.445],[5.097,0.325],[5.127,0.485],[5.157,0.405],[5.187,0.465],[5.217,0.355],[5.247,0.505],
    [5.277,0.395],[5.307,0.475],[5.337,0.335],[5.367,0.425],[5.397,0.495],[5.427,0.385],[5.457,0.465],[5.487,0.305],
    // x 5.5 .. 6.0
    [5.50,0.41],[5.51,0.48],[5.52,0.34],[5.53,0.54],[5.54,0.43],[5.55,0.37],[5.56,0.50],[5.57,0.29],
    [5.58,0.45],[5.59,0.64],[5.60,0.39],[5.61,0.47],[5.62,0.33],[5.63,0.52],[5.64,0.42],[5.65,0.36],
    [5.66,0.49],[5.67,0.72],[5.68,0.40],[5.69,0.28],[5.70,0.44],[5.71,0.38],[5.72,0.53],[5.73,0.43],
    [5.74,0.58],[5.75,0.35],[5.76,0.48],[5.77,0.41],[5.78,0.56],[5.79,0.32],[5.80,0.45],[5.81,0.39],
    [5.82,0.50],[5.83,0.67],[5.84,0.37],[5.85,0.46],[5.86,0.42],[5.87,0.28],[5.88,0.52],[5.89,0.40],
    [5.90,0.47],[5.91,0.34],[5.92,0.57],[5.93,0.43],[5.94,0.38],[5.95,0.49],[5.96,0.31],[5.97,0.45],
    [5.98,0.41],[5.99,0.61],[5.51,0.38],[5.55,0.44],[5.58,0.35],[5.62,0.46],[5.65,0.40],[5.69,0.43],
    [5.72,0.36],[5.75,0.44],[5.79,0.40],[5.83,0.45],[5.86,0.35],[5.90,0.43],[5.93,0.37],[5.97,0.48],
    [5.53,0.40],[5.60,0.43],[5.64,0.34],[5.71,0.47],[5.77,0.38],[5.81,0.34],[5.85,0.49],[5.92,0.41],
    [5.96,0.36],[5.56,0.47],[5.67,0.51],[5.74,0.42],[5.88,0.46],[5.54,0.32],[5.78,0.50],[5.95,0.44],
    [5.61,0.42],[5.82,0.41],[5.98,0.34],[5.70,0.39],[5.89,0.50],[5.57,0.37],[5.66,0.45],[5.84,0.33],
    [5.94,0.47],[5.73,0.31],
    [5.50,0.37],[5.51,0.43],[5.52,0.50],[5.53,0.33],[5.55,0.47],[5.56,0.40],[5.57,0.54],[5.58,0.38],
    [5.59,0.45],[5.61,0.32],[5.62,0.42],[5.63,0.49],[5.65,0.39],[5.66,0.44],[5.67,0.35],[5.69,0.51],
    [5.70,0.41],[5.71,0.34],[5.72,0.46],[5.74,0.40],[5.75,0.48],[5.76,0.37],[5.77,0.52],[5.78,0.43],
    [5.80,0.35],[5.81,0.47],[5.82,0.41],[5.83,0.31],[5.85,0.50],[5.86,0.38],[5.87,0.44],[5.88,0.40],
    [5.90,0.53],[5.91,0.37],[5.92,0.45],[5.94,0.33],[5.95,0.42],[5.96,0.48],[5.97,0.39],[5.99,0.43],
    [5.54,0.58],[5.64,0.61],[5.73,0.56],[5.84,0.63],[5.93,0.57],[5.60,0.66],[5.79,0.60],[5.89,0.65],
    [5.98,0.55],[5.68,0.55],[5.52,0.30],[5.66,0.29],[5.78,0.30],[5.91,0.29],[5.57,0.36],
    [5.505,0.325],[5.525,0.405],[5.545,0.475],[5.565,0.355],[5.585,0.525],[5.605,0.295],[5.625,0.445],[5.645,0.385],
    [5.665,0.535],[5.685,0.335],[5.705,0.485],[5.725,0.305],[5.745,0.425],[5.765,0.365],[5.785,0.505],[5.805,0.315],
    [5.825,0.455],[5.845,0.395],[5.865,0.525],[5.885,0.345],[5.905,0.495],[5.925,0.285],[5.945,0.415],[5.965,0.515],
    [5.985,0.355],[5.515,0.445],[5.615,0.505],[5.715,0.375],[5.815,0.425],[5.915,0.405],[5.555,0.295],[5.755,0.285],
    [5.955,0.305],
    [5.537,0.365],[5.567,0.435],[5.597,0.315],[5.627,0.475],[5.657,0.395],[5.687,0.455],[5.717,0.345],[5.747,0.495],
    [5.777,0.385],[5.807,0.465],[5.837,0.325],[5.867,0.415],[5.897,0.485],[5.927,0.375],[5.957,0.455],[5.987,0.305],
    // x 6.0 .. 6.5
    [6.00,0.40],[6.01,0.47],[6.02,0.33],[6.03,0.53],[6.04,0.42],[6.05,0.36],[6.06,0.49],[6.07,0.29],
    [6.08,0.44],[6.09,0.62],[6.10,0.38],[6.11,0.46],[6.12,0.32],[6.13,0.51],[6.14,0.41],[6.15,0.35],
    [6.16,0.48],[6.17,0.70],[6.18,0.39],[6.19,0.28],[6.20,0.43],[6.21,0.37],[6.22,0.52],[6.23,0.42],
    [6.24,0.57],[6.25,0.34],[6.26,0.47],[6.27,0.40],[6.28,0.55],[6.29,0.31],[6.30,0.44],[6.31,0.38],
    [6.32,0.49],[6.33,0.65],[6.34,0.36],[6.35,0.45],[6.36,0.41],[6.37,0.28],[6.38,0.51],[6.39,0.39],
    [6.40,0.46],[6.41,0.33],[6.42,0.56],[6.43,0.42],[6.44,0.37],[6.45,0.48],[6.46,0.30],[6.47,0.44],
    [6.48,0.40],[6.49,0.60],[6.01,0.37],[6.05,0.43],[6.08,0.34],[6.12,0.45],[6.15,0.39],[6.19,0.42],
    [6.22,0.35],[6.25,0.43],[6.29,0.39],[6.33,0.44],[6.36,0.34],[6.40,0.42],[6.43,0.36],[6.47,0.47],
    [6.03,0.39],[6.10,0.42],[6.14,0.33],[6.21,0.46],[6.27,0.37],[6.31,0.33],[6.35,0.48],[6.42,0.40],
    [6.46,0.35],[6.06,0.46],[6.17,0.50],[6.24,0.41],[6.38,0.45],[6.04,0.31],[6.28,0.49],[6.45,0.43],
    [6.11,0.41],[6.32,0.40],[6.48,0.33],[6.20,0.38],[6.39,0.49],
    [6.00,0.36],[6.01,0.42],[6.02,0.49],[6.03,0.32],[6.05,0.46],[6.06,0.39],[6.07,0.53],[6.08,0.37],
    [6.09,0.44],[6.11,0.31],[6.12,0.41],[6.13,0.48],[6.15,0.38],[6.16,0.43],[6.17,0.34],[6.19,0.50],
    [6.20,0.40],[6.21,0.33],[6.22,0.45],[6.24,0.39],[6.25,0.47],[6.26,0.36],[6.27,0.51],[6.28,0.42],
    [6.30,0.34],[6.31,0.46],[6.32,0.40],[6.33,0.30],[6.35,0.49],[6.36,0.37],[6.37,0.43],[6.38,0.39],
    [6.40,0.52],[6.41,0.36],[6.42,0.44],[6.44,0.32],[6.45,0.41],[6.46,0.47],[6.47,0.38],[6.49,0.42],
    [6.04,0.57],[6.14,0.60],[6.23,0.55],[6.34,0.62],[6.43,0.56],[6.10,0.65],[6.29,0.59],[6.39,0.64],
    [6.48,0.54],[6.18,0.54],[6.02,0.29],[6.16,0.29],[6.28,0.28],[6.41,0.30],[6.07,0.35],
    [6.005,0.315],[6.025,0.395],[6.045,0.465],[6.065,0.345],[6.085,0.515],[6.105,0.285],[6.125,0.435],[6.145,0.375],
    [6.165,0.525],[6.185,0.325],[6.205,0.475],[6.225,0.295],[6.245,0.415],[6.265,0.355],[6.285,0.495],[6.305,0.305],
    [6.325,0.445],[6.345,0.385],[6.365,0.515],[6.385,0.335],[6.405,0.485],[6.425,0.285],[6.445,0.405],[6.465,0.505],
    [6.485,0.345],[6.015,0.435],[6.115,0.495],[6.215,0.365],[6.315,0.415],[6.415,0.395],
    [6.037,0.355],[6.067,0.425],[6.097,0.305],[6.127,0.465],[6.157,0.385],[6.187,0.445],[6.217,0.335],[6.247,0.485],
    [6.277,0.375],[6.307,0.455],[6.337,0.315],[6.367,0.405],[6.397,0.475],[6.427,0.365],[6.457,0.445],[6.487,0.295],
    // x 6.5 .. 7.0
    [6.50,0.39],[6.51,0.46],[6.52,0.32],[6.53,0.52],[6.54,0.41],[6.55,0.35],[6.56,0.48],[6.57,0.28],
    [6.58,0.43],[6.59,0.61],[6.60,0.37],[6.61,0.45],[6.62,0.31],[6.63,0.50],[6.64,0.40],[6.65,0.34],
    [6.66,0.47],[6.67,0.68],[6.68,0.38],[6.69,0.27],[6.70,0.42],[6.71,0.36],[6.72,0.51],[6.73,0.41],
    [6.74,0.56],[6.75,0.33],[6.76,0.46],[6.77,0.39],[6.78,0.54],[6.79,0.30],[6.80,0.43],[6.81,0.37],
    [6.82,0.48],[6.83,0.63],[6.84,0.35],[6.85,0.44],[6.86,0.40],[6.87,0.29],[6.88,0.50],[6.89,0.38],
    [6.90,0.45],[6.91,0.32],[6.92,0.55],[6.93,0.41],[6.94,0.36],[6.95,0.47],[6.96,0.30],[6.97,0.43],
    [6.98,0.39],[6.99,0.58],[6.51,0.36],[6.55,0.42],[6.58,0.33],[6.62,0.44],[6.65,0.38],[6.69,0.41],
    [6.72,0.34],[6.75,0.42],[6.79,0.38],[6.83,0.43],[6.86,0.33],[6.90,0.41],[6.93,0.35],[6.97,0.46],
    [6.53,0.38],[6.60,0.41],[6.64,0.32],[6.71,0.45],[6.77,0.36],[6.81,0.32],[6.85,0.47],[6.92,0.39],
    [6.96,0.34],[6.56,0.45],[6.74,0.40],
    [6.50,0.36],[6.51,0.42],[6.52,0.48],[6.53,0.32],[6.55,0.45],[6.56,0.39],[6.57,0.52],[6.58,0.37],
    [6.59,0.43],[6.61,0.31],[6.62,0.40],[6.63,0.47],[6.65,0.38],[6.66,0.42],[6.67,0.34],[6.69,0.49],
    [6.70,0.40],[6.71,0.33],[6.72,0.44],[6.74,0.39],[6.75,0.46],[6.76,0.36],[6.77,0.50],[6.78,0.41],
    [6.80,0.34],[6.81,0.45],[6.82,0.40],[6.83,0.30],[6.85,0.48],[6.86,0.37],[6.87,0.42],[6.88,0.38],
    [6.90,0.51],[6.91,0.36],[6.92,0.43],[6.94,0.32],[6.95,0.40],[6.96,0.46],[6.97,0.37],[6.99,0.41],
    [6.54,0.56],[6.64,0.59],[6.73,0.54],[6.84,0.61],[6.93,0.55],[6.60,0.63],[6.79,0.57],[6.89,0.62],
    [6.68,0.29],[6.88,0.29],
    [6.505,0.315],[6.525,0.385],[6.545,0.455],[6.565,0.345],[6.585,0.505],[6.605,0.285],[6.625,0.425],[6.645,0.365],
    [6.665,0.515],[6.685,0.325],[6.705,0.465],[6.725,0.295],[6.745,0.405],[6.765,0.355],[6.785,0.485],[6.805,0.305],
    [6.825,0.435],[6.845,0.375],[6.865,0.505],[6.885,0.335],[6.905,0.475],[6.925,0.285],[6.945,0.395],[6.965,0.495],
    [6.985,0.345],[6.515,0.425],[6.615,0.485],[6.715,0.365],[6.815,0.405],[6.915,0.385],
    [6.537,0.355],[6.567,0.415],[6.597,0.305],[6.627,0.455],[6.657,0.385],[6.687,0.435],[6.717,0.335],[6.747,0.475],
    [6.777,0.375],[6.807,0.445],[6.837,0.315],[6.867,0.395],[6.897,0.465],[6.927,0.355],[6.957,0.435],[6.987,0.295],
    // x 7.0 .. 7.5
    [7.00,0.38],[7.01,0.45],[7.03,0.32],[7.04,0.51],[7.05,0.40],[7.07,0.34],[7.08,0.47],[7.09,0.28],
    [7.11,0.42],[7.12,0.60],[7.13,0.36],[7.15,0.44],[7.16,0.31],[7.17,0.49],[7.19,0.39],[7.20,0.33],
    [7.21,0.46],[7.23,0.65],[7.24,0.37],[7.25,0.27],[7.27,0.41],[7.28,0.35],[7.29,0.50],[7.31,0.40],
    [7.32,0.55],[7.33,0.32],[7.35,0.45],[7.36,0.38],[7.37,0.53],[7.39,0.30],[7.40,0.42],[7.41,0.36],
    [7.43,0.47],[7.44,0.58],[7.45,0.34],[7.47,0.43],[7.48,0.39],[7.49,0.29],[7.02,0.36],[7.06,0.42],
    [7.10,0.35],[7.14,0.40],[7.18,0.43],[7.22,0.38],[7.26,0.44],[7.30,0.36],[7.34,0.40],[7.38,0.34],
    [7.42,0.39],[7.46,0.46],[7.02,0.41],[7.14,0.33],[7.26,0.39],[7.38,0.44],[7.46,0.37],[7.18,0.48],
    [7.30,0.31],[7.42,0.49],
    [7.00,0.35],[7.02,0.47],[7.03,0.41],[7.05,0.33],[7.06,0.45],[7.08,0.38],[7.09,0.51],[7.11,0.36],
    [7.12,0.43],[7.14,0.31],[7.15,0.40],[7.17,0.46],[7.18,0.37],[7.20,0.42],[7.21,0.34],[7.23,0.49],
    [7.24,0.40],[7.26,0.33],[7.27,0.44],[7.29,0.38],[7.30,0.46],[7.32,0.36],[7.33,0.50],[7.35,0.41],
    [7.36,0.33],[7.38,0.45],[7.39,0.39],[7.41,0.30],[7.42,0.48],[7.44,0.37],[7.45,0.42],[7.47,0.38],
    [7.48,0.51],[7.49,0.35],[7.04,0.56],[7.13,0.59],[7.22,0.54],[7.31,0.61],[7.40,0.55],[7.46,0.58],
    [7.07,0.29],[7.19,0.28],[7.34,0.29],[7.16,0.63],[7.28,0.53],
    [7.005,0.315],[7.025,0.385],[7.045,0.455],[7.065,0.345],[7.085,0.495],[7.105,0.295],[7.125,0.425],[7.145,0.365],
    [7.165,0.515],[7.185,0.325],[7.205,0.465],[7.225,0.295],[7.245,0.405],[7.265,0.355],[7.285,0.485],[7.305,0.305],
    [7.325,0.435],[7.345,0.375],[7.365,0.505],[7.385,0.335],[7.405,0.475],[7.425,0.285],[7.445,0.395],[7.465,0.455],
    [7.485,0.345],
    [7.037,0.355],[7.067,0.415],[7.097,0.305],[7.127,0.455],[7.157,0.385],[7.187,0.435],[7.217,0.335],[7.247,0.475],
    [7.277,0.375],[7.307,0.445],[7.337,0.315],[7.367,0.395],[7.397,0.465],[7.427,0.355],[7.457,0.435],[7.487,0.305],
    // x 7.5 .. 8.0
    [7.50,0.41],[7.51,0.36],[7.53,0.48],[7.54,0.31],[7.56,0.44],[7.57,0.58],[7.58,0.38],[7.60,0.33],
    [7.61,0.46],[7.63,0.40],[7.64,0.28],[7.65,0.52],[7.67,0.37],[7.68,0.43],[7.69,0.63],[7.71,0.34],
    [7.72,0.47],[7.74,0.39],[7.75,0.30],[7.76,0.55],[7.78,0.42],[7.79,0.36],[7.80,0.49],[7.82,0.32],
    [7.83,0.44],[7.85,0.38],[7.86,0.60],[7.87,0.29],[7.89,0.45],[7.90,0.40],[7.92,0.35],[7.93,0.51],
    [7.94,0.42],[7.96,0.33],[7.97,0.47],[7.99,0.38],[7.52,0.43],[7.59,0.39],[7.62,0.35],[7.66,0.41],
    [7.70,0.45],[7.73,0.36],[7.77,0.39],[7.81,0.43],[7.84,0.35],[7.88,0.41],[7.91,0.37],[7.95,0.44],
    [7.98,0.31],[7.55,0.50],
    [7.50,0.37],[7.52,0.46],[7.53,0.40],[7.55,0.33],[7.57,0.44],[7.58,0.49],[7.60,0.36],[7.62,0.42],
    [7.63,0.31],[7.65,0.45],[7.66,0.38],[7.68,0.50],[7.70,0.35],[7.71,0.41],[7.73,0.44],[7.74,0.33],
    [7.76,0.47],[7.78,0.38],[7.79,0.42],[7.81,0.30],[7.83,0.46],[7.84,0.40],[7.86,0.35],[7.88,0.48],
    [7.89,0.37],[7.91,0.43],[7.93,0.32],[7.95,0.39],[7.97,0.45],[7.98,0.36],[7.56,0.55],[7.67,0.58],
    [7.77,0.53],[7.87,0.56],[7.96,0.52],
    [7.515,0.325],[7.545,0.405],[7.575,0.465],[7.605,0.355],[7.635,0.495],[7.665,0.305],[7.695,0.425],[7.725,0.375],
    [7.755,0.515],[7.785,0.335],[7.815,0.455],[7.845,0.295],[7.875,0.405],[7.905,0.365],[7.935,0.475],[7.965,0.315],
    [7.995,0.435],
    // x 8.0 .. 8.5
    [8.01,0.40],[8.03,0.35],[8.04,0.47],[8.06,0.31],[8.08,0.43],[8.09,0.56],[8.11,0.38],[8.13,0.33],
    [8.14,0.45],[8.16,0.40],[8.18,0.29],[8.19,0.50],[8.21,0.37],[8.23,0.42],[8.24,0.61],[8.26,0.34],
    [8.28,0.46],[8.29,0.39],[8.31,0.31],[8.33,0.53],[8.34,0.41],[8.36,0.36],[8.38,0.48],[8.39,0.33],
    [8.41,0.44],[8.43,0.38],[8.44,0.58],[8.46,0.30],[8.48,0.43],[8.49,0.39],[8.12,0.36],[8.22,0.44],
    [8.32,0.37],[8.42,0.41],[8.27,0.40],
    [8.025,0.375],[8.075,0.455],[8.125,0.325],[8.175,0.415],[8.225,0.355],[8.275,0.495],[8.325,0.435],[8.375,0.305],
    [8.425,0.465],[8.475,0.345],
    // x 8.5 .. 9.0
    [8.51,0.42],[8.53,0.35],[8.55,0.48],[8.57,0.31],[8.59,0.44],[8.61,0.55],[8.63,0.38],[8.65,0.33],
    [8.67,0.46],[8.69,0.40],[8.71,0.29],[8.73,0.51],[8.75,0.37],[8.77,0.43],[8.79,0.62],[8.81,0.34],
    [8.83,0.45],[8.85,0.39],[8.87,0.31],[8.89,0.57],[8.91,0.41],[8.93,0.36],[8.95,0.48],[8.97,0.33],
    [8.99,0.44],[8.60,0.40],[8.70,0.36],[8.84,0.42],[8.94,0.69],
    // x 9.0 .. 9.8
    [9.02,0.47],[9.05,0.38],[9.07,0.33],[9.09,0.43],[9.12,0.52],[9.14,0.36],[9.16,0.41],[9.18,0.30],
    [9.21,0.55],[9.23,0.45],[9.25,0.59],[9.27,0.38],[9.30,0.42],[9.32,0.34],[9.35,0.49],[9.37,0.40],
    [9.40,0.36],[9.43,0.55],[9.45,0.44],[9.48,0.31],[9.50,0.39],[9.53,0.47],[9.56,0.36],[9.58,0.42],
    [9.61,0.33],[9.63,0.50],[9.66,0.38],[9.69,0.44],[9.72,0.35],[9.75,0.41],[9.10,0.40],[9.28,0.47],
    [9.46,0.39],[9.64,0.41],[9.20,0.35],[9.38,0.44],[9.25,0.296],[9.54,0.299],[9.58,0.274],
    // x > 9.8 sparse tail
    [9.84,0.699],[10.90,0.672],[11.29,0.653],[13.22,0.618],[9.76,0.593],[9.94,0.591],[10.10,0.588],[10.03,0.573],
    [11.67,0.585],[11.55,0.573],[12.74,0.572],[12.99,0.571],[9.81,0.546],[10.42,0.521],[9.86,0.519],[11.07,0.523],
    [11.20,0.515],[12.70,0.506],[12.94,0.506],[14.06,0.495],[10.45,0.499],[10.25,0.496],[10.36,0.481],[10.09,0.482],
    [10.88,0.487],[12.74,0.460],[10.82,0.457],[10.59,0.443],[11.33,0.445],[10.85,0.437],[10.10,0.435],[9.96,0.425],
    [10.17,0.419],[10.21,0.409],[10.37,0.406],[11.86,0.421],[10.57,0.400],[10.73,0.391],[10.83,0.395],[11.43,0.401],
    [11.50,0.386],[11.60,0.383],[11.73,0.404],[11.93,0.399],[12.28,0.393],[11.04,0.366],[10.41,0.365],[10.26,0.350],
    [10.40,0.351],[10.59,0.338],[10.13,0.338],[10.05,0.350],[10.25,0.316],[10.12,0.293],[10.46,0.291],[11.33,0.314],
    [9.97,0.276],[10.01,0.318],[9.91,0.439],[9.96,0.456],[9.87,0.455],[9.88,0.481]
];

const xMin = -2.11, xMax = 14.68;
const yMin = 0.138, yMax = 2.0;

const toXY = pts => pts.map(p => ({ x: p[0], y: p[1] }));

const FONT = '"Liberation Sans", Arial, Helvetica, sans-serif';

// R-style box, axes, labels and legend drawn on top of the chart area
const rFrame = {
    id: 'rFrame',
    afterDraw(chart) {
        const ctx = chart.ctx;
        const a = chart.chartArea;
        const xs = chart.scales.x, ys = chart.scales.y;
        ctx.save();
        ctx.strokeStyle = '#000';
        ctx.fillStyle = '#000';
        ctx.lineWidth = 1.3;
        ctx.strokeRect(a.left, a.top, a.right - a.left, a.bottom - a.top);

        // x axis
        ctx.beginPath();
        ctx.moveTo(xs.getPixelForValue(xTicks[0]), a.bottom);
        ctx.lineTo(xs.getPixelForValue(xTicks[xTicks.length - 1]), a.bottom);
        xTicks.forEach(v => {
            const px = xs.getPixelForValue(v);
            ctx.moveTo(px, a.bottom);
            ctx.lineTo(px, a.bottom + 15);
        });
        // y axis
        ctx.moveTo(a.left, ys.getPixelForValue(yTicks[0]));
        ctx.lineTo(a.left, ys.getPixelForValue(yTicks[yTicks.length - 1]));
        yTicks.forEach(v => {
            const py = ys.getPixelForValue(v);
            ctx.moveTo(a.left, py);
            ctx.lineTo(a.left - 15, py);
        });
        ctx.stroke();

        ctx.font = '24px ' + FONT;
        ctx.textAlign = 'center';
        ctx.textBaseline = 'middle';
        xTicks.forEach(v => ctx.fillText(String(v), xs.getPixelForValue(v), a.bottom + 46));
        yTicks.forEach((v, i) => {
            ctx.save();
            ctx.translate(a.left - 45, ys.getPixelForValue(v));
            ctx.rotate(-Math.PI / 2);
            ctx.fillText(yTickLabels[i], 0, 0);
            ctx.restore();
        });

        // axis titles
        ctx.fillText('Average log-expression', (a.left + a.right) / 2, a.bottom + 107);
        ctx.save();
        ctx.translate(a.left - 103, (a.top + a.bottom) / 2);
        ctx.rotate(-Math.PI / 2);
        ctx.fillText('sqrt(sigma)', 0, 0);
        ctx.restore();

        // legend box in top-right corner
        const lw = 137, lh = 90;
        ctx.fillStyle = '#fff';
        ctx.fillRect(a.right - lw, a.top, lw, lh);
        ctx.strokeRect(a.right - lw, a.top, lw, lh);
        const items = [['Normal', '#000000'], ['Outlier', '#ff0000']];
        ctx.textAlign = 'left';
        items.forEach((it, i) => {
            const cy = a.top + 31 + i * 30;
            ctx.fillStyle = it[1];
            ctx.beginPath();
            ctx.arc(a.right - 114, cy, 5, 0, Math.PI * 2);
            ctx.fill();
            ctx.fillStyle = '#000';
            ctx.fillText(it[0], a.right - 92, cy + 1);
        });
        ctx.restore();
    }
};

const ctx = document.getElementById('sigmaChart').getContext('2d');
new Chart(ctx, {
    type: 'scatter',
    data: {
        datasets: [
            {
                label: 'Trend',
                type: 'line',
                data: trendX.map((x, i) => ({ x: x, y: trendY[i] })),
                borderColor: '#0000ff',
                borderWidth: 1.5,
                pointRadius: 0,
                fill: false,
                cubicInterpolationMode: 'monotone'
            },
            {
                label: 'Outlier',
                data: toXY(outlierPoints),
                backgroundColor: '#ff0000',
                pointRadius: 1.8,
                pointBorderWidth: 0
            },
            {
                label: 'Normal',
                data: toXY(normalPoints),
                backgroundColor: '#000000',
                pointRadius: 2.0,
                pointBorderWidth: 0
            }
        ]
    },
    options: {
        responsive: false,
        animation: false,
        devicePixelRatio: 1,
        layout: { padding: { left: 123, top: 122, right: 63, bottom: 154 } },
        plugins: {
            legend: { display: false },
            tooltip: { enabled: false }
        },
        scales: {
            x: { type: 'linear', min: xMin, max: xMax, display: false },
            y: { type: 'linear', min: yMin, max: yMax, display: false }
        }
    },
    plugins: [rFrame]
});
    </script>
</body>
</html>
